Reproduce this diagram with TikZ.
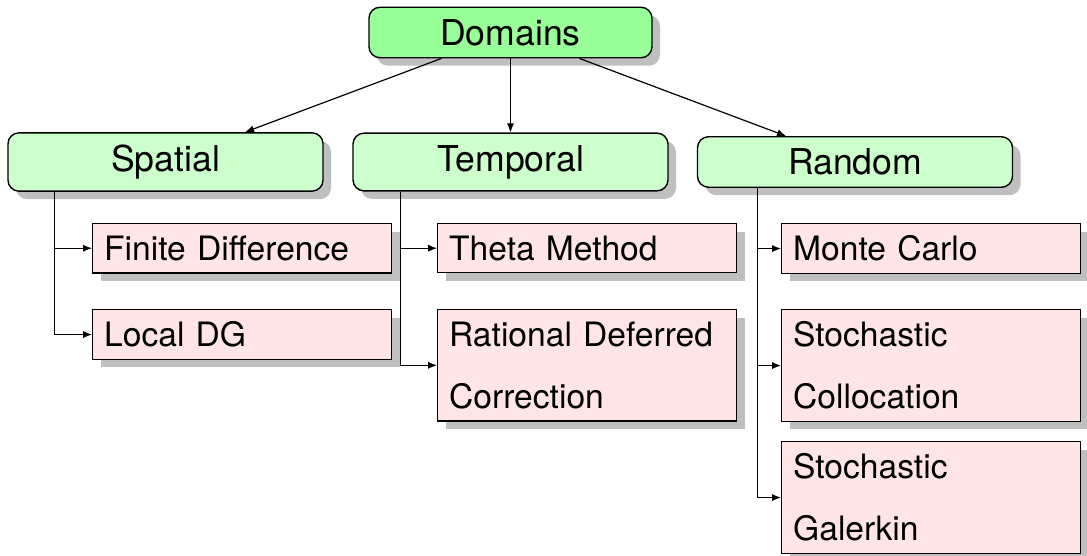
\documentclass[tikz,border=0pt]{standalone}
\usepackage{fontspec}
\setmainfont{TeX Gyre Heros}
\usetikzlibrary{shadows,arrows.meta}

\tikzset{
  boxshadow/.style={drop shadow={shadow xshift=4pt, shadow yshift=-4pt, fill=black!25, opacity=1}},
  areabox/.style={draw=black, line width=0.7pt, rounded corners=5.5pt, fill=green!20,
    minimum width=157.5pt, inner ysep=6pt, boxshadow,
    font=\fontsize{17.8}{21}\selectfont},
  rootbox/.style={areabox, fill=green!40, minimum width=141.5pt},
  methodbox/.style={draw=black, line width=0.7pt, fill=red!10, anchor=north west,
    text width=138pt, inner xsep=5.75pt, inner ysep=6pt, minimum height=24.5pt,
    align=left, boxshadow, font=\fontsize{16.8}{31}\selectfont},
  conn/.style={line width=0.6pt, -{Latex[length=4.5pt,width=3.6pt]}}
}

\begin{document}
\begin{tikzpicture}[x=0.5pt, y=-0.5pt]
  \useasboundingbox (0,0) rectangle (1087,556);

  % top level and the three domains
  \node[rootbox] (dom) at (510.5,32.5) {Domains};
  \node[areabox] (spa) at (165.5,162) {Spatial};
  \node[areabox] (tem) at (510.5,162) {Temporal};
  \node[areabox] (ran) at (855,162) {Random};

  % methods of each domain
  \node[methodbox] (fd)  at (92,223)  {Finite Difference};
  \node[methodbox] (ldg) at (92,309)  {Local DG};
  \node[methodbox] (th)  at (437,223) {Theta Method};
  \node[methodbox] (rdc) at (437,309) {Rational Deferred\\Correction};
  \node[methodbox] (mc)  at (781,223) {Monte Carlo};
  \node[methodbox] (sc)  at (781,309) {Stochastic\\Collocation};
  \node[methodbox] (sg)  at (781,441) {Stochastic\\Galerkin};

  % root to domains
  \draw[conn] (dom) -- (spa);
  \draw[conn] (dom) -- (tem);
  \draw[conn] (dom) -- (ran);

  % domains to methods
  \draw[conn] ([xshift=23.5pt]spa.south west) |- (fd.west);
  \draw[conn] ([xshift=23.5pt]spa.south west) |- (ldg.west);
  \draw[conn] ([xshift=24pt]tem.south west) |- (th.west);
  \draw[conn] ([xshift=24pt]tem.south west) |- (rdc.west);
  \draw[conn] ([xshift=30.5pt]ran.south west) |- (mc.west);
  \draw[conn] ([xshift=30.5pt]ran.south west) |- (sc.west);
  \draw[conn] ([xshift=30.5pt]ran.south west) |- (sg.west);
\end{tikzpicture}
\end{document}
